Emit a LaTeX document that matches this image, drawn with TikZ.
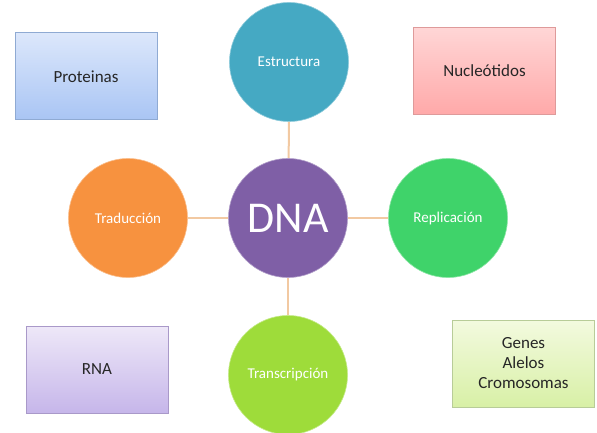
\documentclass[tikz,border=0pt]{standalone}
\usepackage{fontspec}
\setmainfont{Carlito}
\begin{document}
\begin{tikzpicture}[x=1pt,y=-1pt,
  every node/.style={font=\fontsize{15}{18}\selectfont},
  circ/.style={circle,minimum size=119pt,inner sep=0pt,text=white,draw=#1!60!white,line width=0.6pt,fill=#1},
  rbox/.style={rectangle,minimum width=142pt,minimum height=87pt,inner sep=0pt,text=black!85,
    font=\fontsize{17}{20}\selectfont,align=center,line width=1pt},
  link/.style={draw=linkc,line width=2pt}]
\definecolor{linkc}{HTML}{F2C9A2}
\definecolor{cteal}{HTML}{45A9C3}
\definecolor{cpurple}{HTML}{7F5FA6}
\definecolor{corange}{HTML}{F7923F}
\definecolor{cgreen}{HTML}{3FD36A}
\definecolor{clime}{HTML}{9EDC3A}
\definecolor{bluetop}{HTML}{DCE7FB}
\definecolor{bluebot}{HTML}{A9C5F4}
\definecolor{bluebd}{HTML}{8FAAD3}
\definecolor{redtop}{HTML}{FFD6D6}
\definecolor{redbot}{HTML}{FFA9A9}
\definecolor{redbd}{HTML}{DE9A9A}
\definecolor{vitop}{HTML}{EEE8F8}
\definecolor{vibot}{HTML}{C6B6EA}
\definecolor{vibd}{HTML}{A999C9}
\definecolor{grtop}{HTML}{F3FADF}
\definecolor{grbot}{HTML}{D8F0A6}
\definecolor{grbd}{HTML}{B8CC98}
\useasboundingbox (0,0) rectangle (597,433);
\coordinate (c) at (288,218);
\node[circ=cteal] (estr) at (289,62) {Estructura};
\node[circ=corange] (trad) at (128,218) {Traducción};
\node[circ=cgreen] (repl) at (448,218) {Replicación};
\node[circ=clime] (trans) at (288,375) {Transcripción};
\path[link] (estr.south) -- (c);
\path[link] (trad.east) -- (c);
\path[link] (repl.west) -- (c);
\path[link] (trans.north) -- (c);
\node[circ=cpurple,font=\fontsize{44}{50}\selectfont] (dna) at (c) {DNA};
% boxes
\node[rbox,draw=bluebd,top color=bluetop,bottom color=bluebot] (prot) at (86,76.5) {Proteinas};
\node[rbox,draw=redbd,top color=redtop,bottom color=redbot] (nucl) at (484.5,71) {Nucleótidos};
\node[rbox,draw=vibd,top color=vitop,bottom color=vibot] (rna) at (97,369.5) {RNA};
\node[rbox,draw=grbd,top color=grtop,bottom color=grbot] (genes) at (523.5,363.5) {Genes\\Alelos\\Cromosomas};
\end{tikzpicture}
\end{document}
